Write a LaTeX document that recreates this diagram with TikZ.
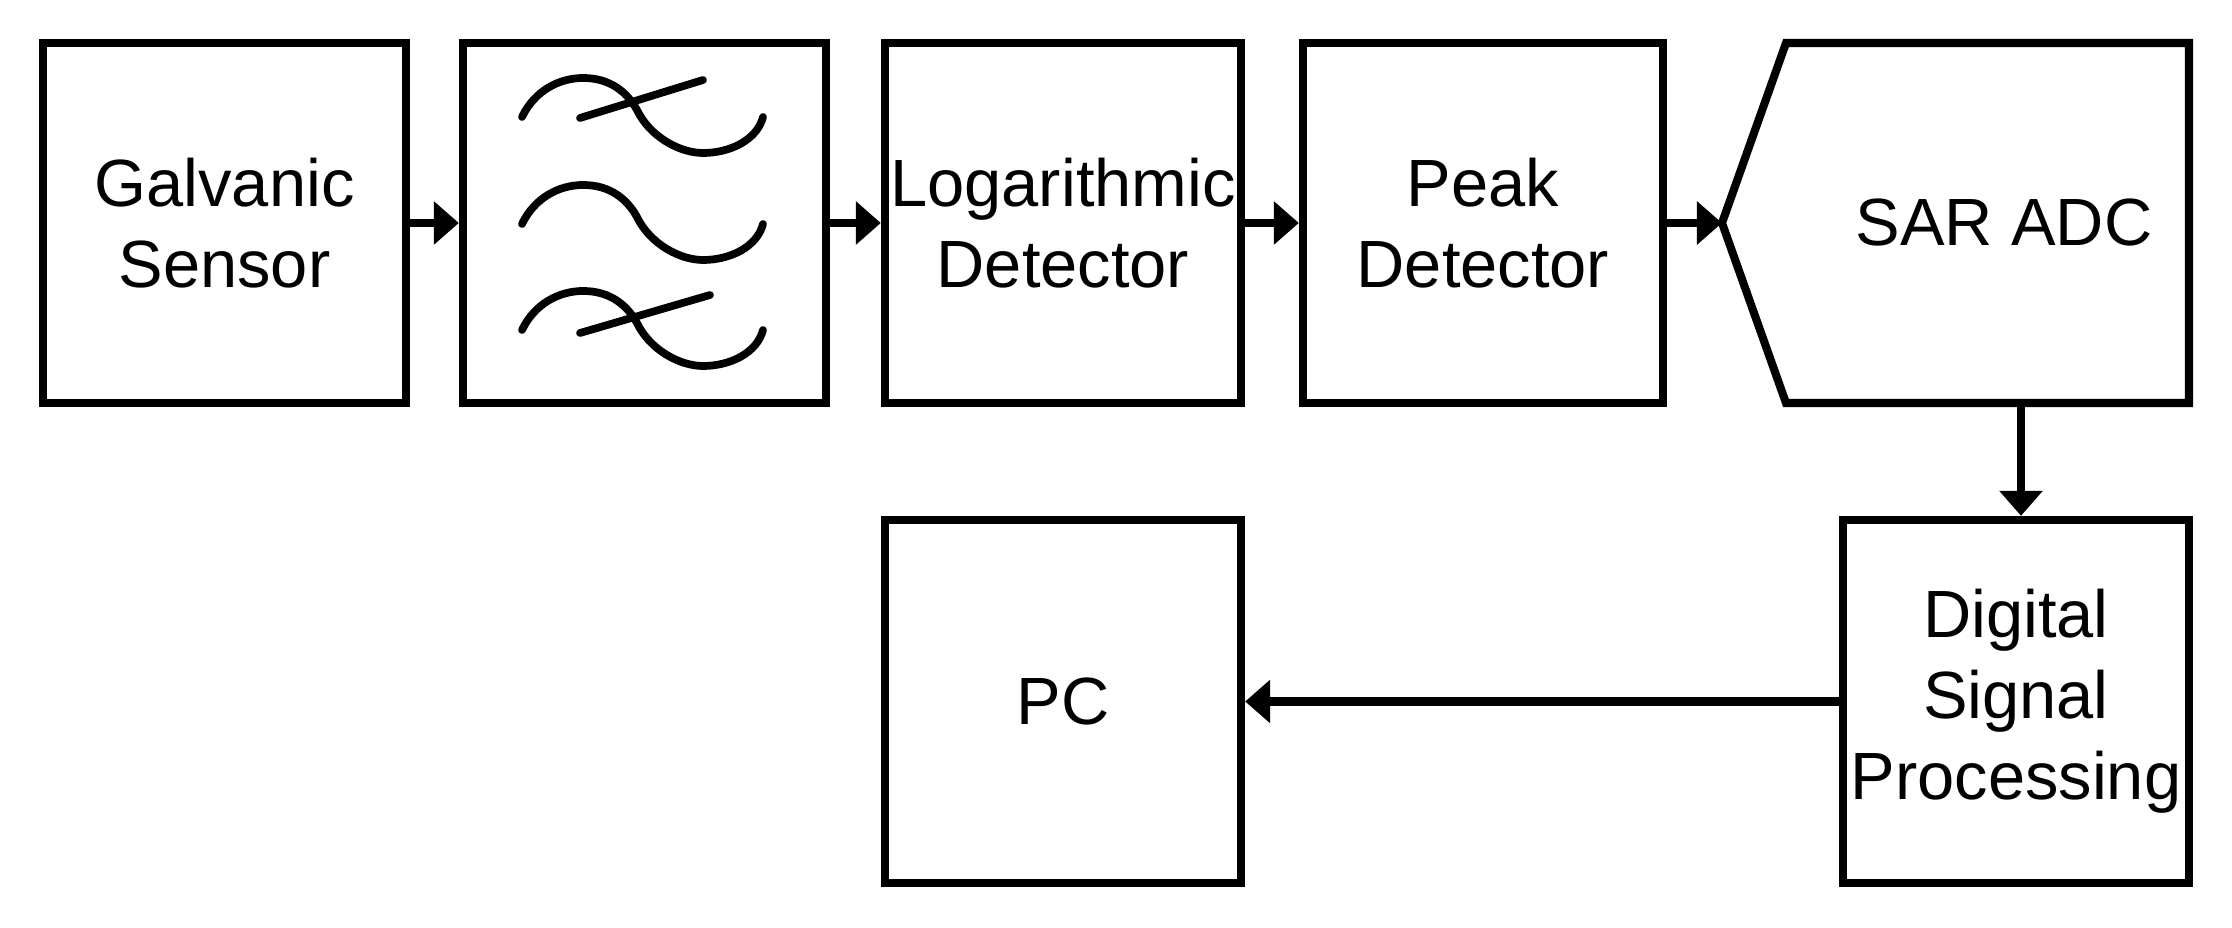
\documentclass[tikz,border=0pt]{standalone}
\usepackage{fontspec}
\setmainfont{Liberation Sans}
\usetikzlibrary{arrows.meta}
\begin{document}
\begin{tikzpicture}[x=0.01cm,y=-0.01cm,
  lw/.style={line width=2.3pt},
  box/.style={draw,lw,minimum height=3.6cm,align=center,inner sep=0pt,
    font=\fontsize{19}{23}\selectfont},
  arr/.style={lw,-{Triangle[length=0.25cm,width=0.42cm]}}]
\useasboundingbox (0,0) rectangle (2232,928);
\node[box,minimum width=3.63cm] (gs) at (224.5,223) {Galvanic\\Sensor};
\node[box,minimum width=3.63cm] (flt) at (644.5,223) {};
\node[box,minimum width=3.56cm] (log) at (1063,223) {Logarithmic\\Detector};
\node[box,minimum width=3.60cm] (pk) at (1483,223) {Peak\\Detector};
\draw[lw,line join=miter] (1786,43) -- (2189,43) -- (2189,403) -- (1786,403) -- (1722,223) -- cycle;
\coordinate (sarin) at (1722,223);
\coordinate (sarb) at (2021,403);
\node[font=\fontsize{19}{23}\selectfont] (sar) at (2004,223) {SAR ADC};
\node[box,minimum width=3.46cm,minimum height=3.63cm] (dsp) at (2016,701.5) {Digital\\Signal\\Processing};
\node[box,minimum width=3.56cm,minimum height=3.63cm] (pc) at (1063,701.5) {PC};
% filter symbol
\foreach \dy in {0,107,213}{
  \draw[line width=2.2pt,line cap=round] (522,117+\dy) .. controls (535,90+\dy) and (560,78+\dy) .. (583,78+\dy)
    .. controls (610,78+\dy) and (627,92+\dy) .. (637,110+\dy)
    .. controls (650,137+\dy) and (680,153+\dy) .. (703,153+\dy)
    .. controls (730,153+\dy) and (757,140+\dy) .. (763,117+\dy);
}
\draw[line width=2.2pt,line cap=round] (580,118) -- (703,80);
\draw[line width=2.2pt,line cap=round] (580,333) -- (710,295);
\draw[arr] (gs) -- (flt);
\draw[arr] (flt) -- (log);
\draw[arr] (log) -- (pk);
\draw[arr] (pk) -- (sarin);
\draw[arr] (sarb) -- (sarb |- dsp.north);
\draw[arr] (dsp) -- (pc);
\end{tikzpicture}
\end{document}
